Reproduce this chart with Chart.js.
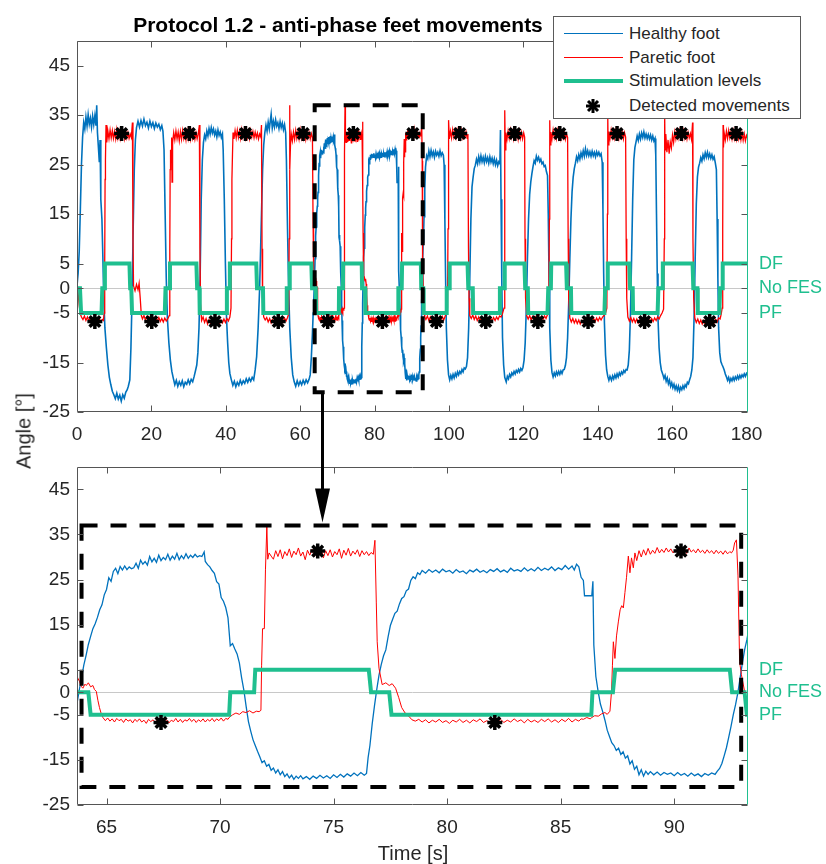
<!DOCTYPE html>
<html lang="en">
<head>
    <meta charset="UTF-8">
    <title>Protocol 1.2 - anti-phase feet movements</title>
    <script src="https://cdn.jsdelivr.net/npm/chart.js"></script>
    <style>
        body {
            margin: 0;
            background-color: #ffffff;
            font-family: "Liberation Sans", Arial, sans-serif;
            color: #262626;
        }
        #page {
            position: relative;
            width: 826px;
            height: 864px;
            overflow: hidden;
        }
        canvas {
            position: absolute;
            left: 0;
        }
        #overviewChart { top: 0; }
        #zoomChart { top: 445px; }
        #overlay { top: 0; pointer-events: none; }
        .title {
            position: absolute;
            top: 13px;
            left: 338px;
            transform: translateX(-50%);
            font-weight: bold;
            font-size: 21px;
            white-space: nowrap;
            color: #000;
        }
        .ylabel {
            position: absolute;
            left: 24px;
            top: 431px;
            transform: translate(-50%, -50%) rotate(-90deg);
            font-size: 20px;
            white-space: nowrap;
        }
        .xlabel {
            position: absolute;
            left: 413px;
            top: 853px;
            transform: translate(-50%, -50%);
            font-size: 20px;
            white-space: nowrap;
        }
        .legend {
            position: absolute;
            left: 553px;
            top: 16px;
            width: 246px;
            height: 101px;
            border: 1px solid #5a5a5a;
            background-color: #ffffff;
            font-size: 17px;
        }
        .legend .item {
            position: absolute;
            left: 75px;
            height: 24px;
            line-height: 24px;
            white-space: nowrap;
        }
        .legend .swatch {
            position: absolute;
            left: 10px;
            width: 59px;
        }
        .legend svg {
            position: absolute;
            left: 31px;
        }
    </style>
</head>
<body>
<div id="page">
    <canvas id="overviewChart" width="826" height="445"></canvas>
    <canvas id="zoomChart" width="826" height="419"></canvas>
    <canvas id="overlay" width="826" height="864"></canvas>
    <div class="title">Protocol 1.2 - anti-phase feet movements</div>
    <div class="legend">
        <div class="swatch" style="top:16px; height:1px; background-color:#0072bd;"></div>
        <div class="item" style="top:5px;">Healthy foot</div>
        <div class="swatch" style="top:40px; height:1px; background-color:#ff0000;"></div>
        <div class="item" style="top:29px;">Paretic foot</div>
        <div class="swatch" style="top:62px; height:4px; background-color:#1fbf8f;"></div>
        <div class="item" style="top:52px;">Stimulation levels</div>
        <svg width="16" height="16" style="top:81px;" viewBox="0 0 16 16">
            <g stroke="#000" stroke-width="3">
                <line x1="8" y1="1" x2="8" y2="15"/>
                <line x1="1" y1="8" x2="15" y2="8"/>
                <line x1="3" y1="3" x2="13" y2="13"/>
                <line x1="13" y1="3" x2="3" y2="13"/>
            </g>
        </svg>
        <div class="item" style="top:77px;">Detected movements</div>
    </div>
    <div class="ylabel">Angle [°]</div>
    <div class="xlabel">Time [s]</div>
</div>

<script>
    // [time s, angle deg]
    const healthyFoot = [
        [0, 0.5], [0.3, 3], [0.6, 7.5], [0.9, 16], [1.2, 25], [1.5, 30.5], [1.8, 33.5], [2.1, 32.2], [2.4, 34.6], [2.7, 32.8],
        [3.0, 35.1], [3.3, 33.2], [3.6, 34.4], [3.9, 32.6], [4.2, 34.8], [4.5, 33.1], [4.8, 34.9], [5.1, 32.9], [5.3, 37], [5.5, 31.5],
        [5.8, 28], [6.0, 25.5], [6.2, 30], [6.4, 18], [6.7, 14], [6.9, 8], [7.2, -2], [7.5, -8], [7.9, -12], [8.3, -15.5],
        [8.7, -18], [9.1, -19.5], [9.5, -20.8], [9.9, -21.5], [10.3, -22.3], [10.7, -21.2], [11.1, -22.4], [11.5, -21.6], [11.9, -22.8], [12.3, -21.5],
        [12.7, -22.2], [13.1, -21], [13.5, -20.5], [13.8, -19.8], [14.2, -18.5], [14.5, -12], [14.8, -2], [15.1, 12], [15.4, 24], [15.7, 30],
        [16.0, 32.5], [16.4, 33.8], [16.8, 32.6], [17.2, 33.9], [17.6, 32.8], [18.0, 34.2], [18.4, 32.9], [18.8, 33.6], [19.2, 32.4], [19.6, 33.8],
        [20.0, 32.7], [20.4, 33.5], [20.8, 32.3], [21.2, 33.4], [21.6, 32.6], [22.0, 33.2], [22.4, 32.1], [22.8, 32.9], [23.1, 31.8], [23.4, 28],
        [23.7, 15], [24.0, 2], [24.3, -6], [24.7, -11], [25.1, -14.5], [25.5, -16.8], [25.9, -18.2], [26.3, -19.5], [26.7, -18.6], [27.1, -19.8],
        [27.5, -18.9], [27.9, -19.6], [28.3, -18.7], [28.7, -19.9], [29.1, -19.0], [29.5, -19.4], [29.9, -18.5], [30.3, -19.3], [30.7, -18.4], [31.1, -18.9],
        [31.5, -17.8], [31.9, -16.5], [32.2, -15.5], [32.5, -13], [32.8, -8], [33.1, 2], [33.4, 18], [33.7, 26],
        [34.0, 29.5], [34.3, 31], [34.6, 30.2], [34.9, 31.8], [35.2, 30.8], [35.5, 32.3], [35.8, 31.2], [36.1, 32.5], [36.4, 31.4], [36.7, 32.2],
        [37.0, 31], [37.3, 31.8], [37.6, 30.6], [37.9, 32], [38.2, 30.9], [38.5, 31.6], [38.8, 30.5], [39.1, 31.2], [39.3, 28], [39.6, 18],
        [39.9, 5], [40.2, -6], [40.5, -11], [40.8, -15], [41.1, -17.2], [41.5, -18.5], [41.9, -19.6], [42.3, -18.8], [42.7, -19.9], [43.1, -19.0],
        [43.5, -19.6], [43.9, -18.6], [44.3, -19.4], [44.7, -18.7], [45.1, -19.2], [45.5, -18.3], [45.9, -19.0], [46.3, -18.2], [46.7, -18.8], [47.1, -18.0],
        [47.5, -18.5], [47.9, -16.5], [48.3, -13.8], [48.7, -8], [49.1, 0], [49.5, 12], [49.9, 24], [50.2, 29],
        [50.5, 31.5], [50.8, 33], [51.1, 31.8], [51.4, 33.6], [51.7, 32.2], [52.0, 34], [52.2, 35.2], [52.5, 32.4], [52.8, 33.8], [53.1, 32.6],
        [53.4, 34.1], [53.7, 32.8], [54.0, 33.5], [54.3, 32.3], [54.6, 33.7], [54.9, 32.5], [55.2, 33.4], [55.5, 32.1], [55.8, 33.1], [56.1, 31.5],
        [56.3, 26], [56.6, 12], [56.9, 0], [57.2, -8], [57.6, -14], [58.0, -17.5], [58.4, -18.9], [58.8, -19.8], [59.2, -18.7], [59.6, -19.6],
        [60.0, -18.8], [60.4, -19.5], [60.8, -18.6], [61.2, -19.3], [61.6, -18.5], [62.0, -19.1], [62.4, -18.4], [62.7, -17.5], [63.0, -14], [63.3, -9],
        [63.5, -5], [63.6, -4.5], [63.7, -2.5], [63.8, 0.5], [63.9, 3.2], [64.0, 6.0], [64.1, 8.2], [64.2, 10.6], [64.3, 12.4], [64.4, 14.1],
        [64.5, 15.2], [64.6, 16.6], [64.7, 18.3], [64.8, 19.4], [64.9, 21.6], [65.0, 22.8], [65.1, 25.4], [65.2, 24.6], [65.3, 26.8], [65.4, 27.5],
        [65.5, 26.3], [65.6, 27.9], [65.7, 27.1], [65.8, 28.0], [65.9, 27.2], [66.0, 27.8], [66.1, 27.4], [66.2, 27.6], [66.3, 28.6], [66.4, 27.5],
        [66.5, 29.3], [66.6, 28.4], [66.7, 29.0], [66.8, 28.2], [66.9, 30.1], [67.0, 28.9], [67.1, 29.7], [67.2, 28.8], [67.3, 30.4], [67.4, 29.2],
        [67.5, 29.9], [67.6, 29.4], [67.7, 30.6], [67.8, 29.3], [67.9, 30.2], [68.0, 29.5], [68.1, 30.8], [68.2, 29.4], [68.3, 30.3], [68.4, 29.6],
        [68.5, 30.7], [68.6, 29.7], [68.7, 30.4], [68.8, 29.9], [68.9, 30.6], [69.0, 30.0], [69.1, 30.3], [69.2, 30.1], [69.3, 31.1], [69.35, 29.0],
        [69.45, 28.3], [69.55, 27.8], [69.65, 27.0], [69.75, 26.4], [69.85, 24.5], [69.95, 24.0], [70.05, 21.0], [70.15, 20.2], [70.25, 18.8], [70.35, 16.5],
        [70.45, 10.3], [70.55, 10.8], [70.65, 9.6], [70.75, 8.5], [70.85, 6.5], [70.95, 3.2], [71.05, 0.4], [71.15, -3.2], [71.25, -6.5], [71.35, -8.6],
        [71.45, -10.5], [71.55, -11.8], [71.65, -13.1], [71.75, -14.3], [71.85, -15.6], [71.95, -15.2], [72.05, -16.4], [72.15, -16.0], [72.25, -17.3], [72.35, -16.8],
        [72.45, -17.9], [72.55, -17.2], [72.65, -18.3], [72.75, -17.6], [72.85, -18.7], [72.95, -18.1], [73.05, -19.0], [73.15, -18.4], [73.25, -19.3], [73.35, -18.6],
        [73.45, -19.1], [73.55, -18.5], [73.65, -19.2], [73.8, -18.7], [73.95, -19.3], [74.1, -18.6], [74.25, -19.1], [74.4, -18.4], [74.55, -19.0], [74.7, -18.5],
        [74.85, -19.1], [75.0, -18.3], [75.15, -18.9], [75.3, -18.2], [75.45, -18.8], [75.6, -18.1], [75.75, -18.6], [75.9, -17.9], [76.05, -18.5], [76.2, -17.8],
        [76.35, -18.4], [76.45, -18.0], [76.52, -14.5], [76.6, -11.8], [76.7, -7.0], [76.8, -3.0], [76.9, 0.6], [77.0, 3.8], [77.1, 6.2], [77.2, 8.1],
        [77.3, 9.4], [77.4, 12.3], [77.5, 14.8], [77.6, 16.2], [77.7, 17.5], [77.8, 18.0], [77.9, 19.6], [78.0, 20.8], [78.1, 21.2], [78.2, 22.5],
        [78.3, 22.9], [78.4, 24.8], [78.5, 25.6], [78.6, 25.2], [78.7, 26.5], [78.8, 26.1], [78.9, 27.0], [79.05, 26.4], [79.2, 27.2], [79.35, 26.6],
        [79.5, 27.1], [79.65, 26.5], [79.8, 27.3], [79.95, 26.7], [80.1, 27.0], [80.25, 26.4], [80.4, 27.2], [80.55, 26.6], [80.7, 26.9], [80.85, 26.3],
        [81.0, 27.1], [81.15, 26.7], [81.3, 27.3], [81.45, 26.6], [81.6, 27.0], [81.75, 26.5], [81.9, 27.2], [82.05, 26.8], [82.2, 27.4], [82.35, 26.7],
        [82.5, 27.1], [82.65, 26.6], [82.8, 27.5], [82.95, 26.9], [83.1, 27.2], [83.25, 26.8], [83.4, 27.6], [83.55, 26.9], [83.7, 27.4], [83.85, 26.9],
        [84.0, 27.7], [84.15, 27.0], [84.3, 27.5], [84.45, 27.1], [84.6, 27.8], [84.75, 27.0], [84.9, 27.6], [85.05, 27.2], [85.2, 28.1], [85.35, 27.3],
        [85.5, 28.0], [85.6, 27.1], [85.7, 28.4], [85.8, 27.8], [85.9, 25.5], [86.0, 24.8], [86.05, 21.4], [86.2, 21.4], [86.37, 21.4], [86.42, 24.6],
        [86.46, 10.5], [86.55, 3.5], [86.65, 0.2], [86.75, -2.6], [86.85, -4.3], [86.95, -6.2], [87.05, -8.4], [87.15, -9.8], [87.25, -11.2], [87.35, -11.8],
        [87.45, -12.9], [87.55, -12.4], [87.65, -13.8], [87.75, -13.2], [87.85, -14.6], [87.95, -14.1], [88.05, -15.9], [88.15, -15.2], [88.25, -17.1], [88.35, -16.4],
        [88.45, -18.3], [88.55, -17.2], [88.65, -18.6], [88.75, -17.5], [88.85, -18.2], [88.95, -17.6], [89.1, -18.3], [89.25, -17.7], [89.4, -18.4], [89.55, -17.8],
        [89.7, -18.2], [89.85, -17.9], [90.0, -18.5], [90.15, -17.8], [90.3, -18.4], [90.45, -18.0], [90.6, -18.6], [90.75, -17.9], [90.9, -18.5], [91.05, -18.1],
        [91.2, -18.7], [91.35, -18.0], [91.5, -18.4], [91.65, -17.9], [91.8, -18.2], [91.9, -17.5], [92.0, -16.9], [92.1, -15.8], [92.2, -14.1], [92.3, -12.3],
        [92.4, -10.0], [92.5, -7.6], [92.6, -5.0], [92.7, -2.8], [92.8, -0.2], [92.9, 3.1], [93.0, 6.4], [93.1, 9.4], [93.2, 11.6], [93.3, 14.5],
        [93.5, 20], [93.7, 24.5], [94.0, 26.8], [94.3, 26.2], [94.6, 27.8], [94.9, 26.6], [95.2, 27.9], [95.5, 26.8], [95.8, 27.6], [96.1, 26.5],
        [96.4, 27.7], [96.7, 26.9], [97.0, 27.5], [97.3, 26.7], [97.6, 27.8], [97.9, 26.8], [98.2, 27.4], [98.5, 26.9], [98.7, 25], [98.9, 14],
        [99.1, 2], [99.3, -8], [99.6, -14.5], [99.9, -17.5], [100.2, -18.5], [100.5, -17.6], [100.8, -18.3], [101.1, -17.4], [101.4, -18.1], [101.7, -17.2],
        [102.0, -17.8], [102.3, -16.9], [102.6, -17.5], [102.9, -16.8], [103.2, -17.2], [103.5, -16.4], [103.8, -16.9], [104.1, -16.1], [104.4, -16.3], [104.7, -15.8],
        [105.0, -14], [105.3, -8], [105.6, 2], [105.9, 14], [106.2, 20.5], [106.5, 22.5], [106.8, 24.2],
        [107.1, 24.9], [107.4, 26.1], [107.7, 25.2], [108.0, 26.6], [108.3, 25.5], [108.6, 26.8], [108.9, 25.6], [109.2, 26.5], [109.5, 25.4], [109.8, 26.7],
        [110.1, 25.6], [110.4, 26.4], [110.7, 25.3], [111.0, 26.6], [111.3, 25.5], [111.6, 26.3], [111.9, 25.2], [112.2, 26.2], [112.5, 25.0], [112.8, 25.9],
        [113.1, 24.8], [113.4, 25.6], [113.7, 25.2], [113.85, 32], [114.0, 18], [114.2, 2], [114.4, -10], [114.7, -15.5], [115.0, -18], [115.4, -18.9],
        [115.7, -17.8], [116.0, -18.3], [116.3, -17.4], [116.6, -17.9], [116.9, -17.1], [117.2, -17.5], [117.5, -16.8], [117.8, -17.3], [118.1, -16.6], [118.4, -17.0],
        [118.7, -16.4], [119.0, -16.9], [119.3, -16.2], [119.6, -16.6], [119.9, -16.0], [120.2, -14.5], [120.5, -11], [120.8, -4], [121.1, 6], [121.4, 14],
        [121.7, 19], [122.0, 21.5], [122.3, 23.2], [122.6, 24.6], [122.9, 25.8], [123.2, 25.3], [123.5, 26.7], [123.8, 25.9], [124.1, 26.5], [124.4, 25.6],
        [124.7, 26.1], [125.0, 25.2], [125.3, 25.5], [125.6, 24.6], [125.9, 24.8], [126.2, 23.6], [126.5, 22.8], [126.7, 15], [126.9, 3], [127.1, -8],
        [127.4, -14.5], [127.7, -17], [128.0, -17.9], [128.3, -17.1], [128.6, -17.7], [128.9, -16.9], [129.2, -17.5], [129.5, -16.8], [129.8, -17.4], [130.1, -16.7],
        [130.4, -17.2], [130.7, -16.5], [131.0, -16.4], [131.3, -15.6], [131.6, -14], [131.9, -10], [132.2, -3], [132.5, 6], [132.8, 14], [133.1, 19.5],
        [133.4, 22.5], [133.7, 24.2], [134.0, 25.3], [134.3, 26.6], [134.6, 25.8], [134.9, 27.0], [135.2, 26.1], [135.5, 27.4], [135.8, 26.5], [136.1, 27.8],
        [136.4, 26.7], [136.7, 28.2], [137.0, 26.9], [137.3, 27.8], [137.6, 26.8], [137.9, 27.6], [138.2, 26.7], [138.5, 27.7], [138.8, 26.8], [139.1, 27.5],
        [139.4, 26.6], [139.7, 27.6], [140.0, 26.9], [140.3, 27.5], [140.6, 26.8], [140.9, 27.2], [141.2, 25.5], [141.4, 16], [141.6, 3], [141.8, -7],
        [142.1, -13.5], [142.4, -16.5], [142.7, -17.8], [143.0, -18.6], [143.3, -17.8], [143.7, -18.6], [144.0, -17.7], [144.3, -18.3], [144.6, -17.5], [144.9, -18.1],
        [145.2, -17.3], [145.5, -17.9], [145.8, -17.1], [146.1, -17.6], [146.4, -16.9], [146.7, -17.3], [147.0, -16.6], [147.3, -17.0], [147.6, -16.4], [147.9, -16.5],
        [148.2, -15.5], [148.5, -12.5], [148.8, -5], [149.1, 6], [149.4, 18], [149.7, 26], [150.0, 28.5], [150.3, 29.6], [150.6, 30.8], [150.9, 29.9],
        [151.2, 31.2], [151.5, 30.2], [151.8, 31.4], [152.1, 30.5], [152.4, 31.6], [152.7, 30.4], [153.0, 31.2], [153.3, 30.3], [153.6, 31.1], [153.9, 30.2],
        [154.2, 31.0], [154.5, 30.0], [154.8, 30.8], [155.1, 29.8], [155.4, 30.3], [155.6, 27], [155.8, 15], [156.0, 3], [156.2, -6], [156.5, -12],
        [156.8, -15], [157.1, -16.5], [157.5, -17.4], [157.8, -18.2], [158.1, -17.6], [158.4, -18.8], [158.7, -18.1], [159.0, -19.3], [159.3, -18.6], [159.6, -19.8],
        [159.9, -19.1], [160.2, -20.1], [160.5, -19.4], [160.8, -20.4], [161.1, -19.7], [161.4, -20.6], [161.7, -19.8], [162.0, -20.8], [162.3, -20.0], [162.6, -20.5],
        [162.9, -19.7], [163.2, -20.3], [163.5, -19.5], [163.8, -19.9], [164.1, -19.0], [164.4, -19.3], [164.7, -18.5], [165.0, -17.8], [165.3, -16.5], [165.6, -14],
        [165.9, -6], [166.2, 6], [166.5, 17], [166.8, 22.5], [167.1, 24.5], [167.4, 25.3], [167.7, 26.4], [168.0, 25.7], [168.3, 27.0], [168.6, 26.2],
        [168.9, 27.4], [169.2, 26.5], [169.5, 27.5], [169.8, 26.4], [170.1, 27.2], [170.4, 26.3], [170.7, 27.0], [171.0, 26.1], [171.3, 26.6], [171.6, 25.4],
        [171.9, 24], [172.1, 14], [172.3, 2], [172.5, -8], [172.8, -13], [173.1, -14.8], [173.4, -15.4], [173.7, -15.9], [174.0, -16.5], [174.3, -17.3],
        [174.6, -17.9], [174.9, -18.6], [175.2, -18.0], [175.5, -18.9], [175.8, -18.2], [176.1, -18.7], [176.4, -18.0], [176.7, -18.6], [177.0, -17.9], [177.3, -18.4],
        [177.6, -17.7], [177.9, -18.3], [178.2, -17.6], [178.5, -18.1], [178.8, -17.5], [179.1, -17.9], [179.4, -17.3], [179.7, -17.8], [180.0, -17.2], [180.4, -17.6]
    ];

    const pareticFoot = [
        [0, 0.5], [0.3, -1], [0.6, -3.5], [0.9, -5.2], [1.2, -5.8], [1.6, -6.3], [2.0, -5.6], [2.4, -6.5], [2.8, -5.8], [3.2, -6.6],
        [3.6, -5.9], [4.0, -6.7], [4.4, -6.0], [4.8, -6.8], [5.2, -6.1], [5.6, -6.9], [6.0, -6.2], [6.4, -6.8], [6.8, -6.3], [7.1, -6.5],
        [7.3, -5], [7.45, 5], [7.55, 22], [7.65, 26], [7.8, 33], [8.0, 29.5], [8.3, 31.8], [8.6, 30.2], [8.9, 32.0], [9.2, 30.4],
        [9.5, 31.9], [9.8, 30.3], [10.1, 31.7], [10.4, 30.2], [10.7, 32.1], [11.0, 30.4], [11.3, 31.8], [11.6, 30.3], [11.9, 31.9], [12.2, 30.5],
        [12.5, 31.6], [12.8, 30.2], [13.1, 31.8], [13.4, 30.4], [13.7, 31.5], [14.0, 30.3], [14.3, 31.2], [14.6, 30.5], [14.9, 33.5], [15.05, 10],
        [15.2, 0.5], [15.6, -0.5], [16.0, 0.8], [16.4, -0.3], [16.7, 1.0], [17.0, -2], [17.3, -5.5], [17.6, -6.2], [18.0, -5.5], [18.4, -6.4],
        [18.8, -5.7], [19.2, -6.6], [19.6, -5.8], [20.0, -6.5], [20.4, -5.9], [20.8, -6.7], [21.2, -6.0], [21.6, -6.6], [22.0, -5.9], [22.4, -6.7],
        [22.8, -6.1], [23.2, -6.8], [23.6, -6.0], [24.0, -6.6], [24.4, -6.2], [24.8, -5.5], [24.95, 8], [25.05, 24], [25.15, 28], [25.3, 26],
        [25.45, 30.5], [25.55, 21.5], [25.7, 29.4], [26.0, 31.5], [26.3, 30.0], [26.6, 31.8], [26.9, 30.2], [27.2, 31.6], [27.5, 29.8], [27.8, 31.7],
        [28.1, 30.1], [28.4, 31.9], [28.7, 30.3], [29.0, 31.5], [29.3, 30.0], [29.6, 31.8], [29.9, 30.2], [30.2, 31.6], [30.5, 30.1], [30.8, 31.7],
        [31.1, 30.3], [31.4, 31.5], [31.7, 30.1], [32.0, 31.4], [32.3, 30.2], [32.6, 31.3], [32.9, 33], [33.05, 8], [33.2, -3], [33.5, -6.5],
        [33.9, -5.8], [34.3, -6.9], [34.7, -6.1], [35.1, -7.2], [35.5, -6.3], [35.9, -7.0], [36.3, -6.2], [36.7, -7.3], [37.1, -6.4], [37.5, -7.1],
        [37.9, -6.3], [38.3, -7.2], [38.7, -6.4], [39.1, -7.0], [39.5, -6.2], [39.9, -6.9], [40.3, -6.1], [40.7, -6.6], [41.1, -5.8], [41.4, -4],
        [41.55, 10], [41.65, 22], [41.8, 27], [41.95, 31.5], [42.2, 30.2], [42.5, 31.9], [42.8, 30.4], [43.1, 32.0], [43.4, 30.5], [43.7, 31.8],
        [44.0, 30.3], [44.3, 32.1], [44.6, 30.6], [44.9, 31.9], [45.2, 30.4], [45.5, 32.0], [45.8, 30.5], [46.1, 31.8], [46.4, 30.3], [46.7, 31.9],
        [47.0, 30.6], [47.3, 31.7], [47.6, 30.4], [47.9, 31.6], [48.2, 30.5], [48.5, 31.4], [48.8, 30.2], [49.1, 31.2], [49.4, 30.6], [49.6, 33],
        [49.75, 8], [49.9, -3], [50.2, -5.8], [50.6, -6.4], [51.0, -5.9], [51.4, -6.8], [51.8, -6.1], [52.2, -7.0], [52.6, -6.3], [53.0, -6.9],
        [53.4, -6.2], [53.8, -7.1], [54.2, -6.4], [54.6, -6.9], [55.0, -6.1], [55.4, -6.8], [55.8, -6.0], [56.2, -6.6], [56.6, -5.9], [56.9, -5.2],
        [57.05, 10], [57.15, 37], [57.25, 24], [57.4, 29], [57.6, 31.2], [57.9, 29.8], [58.2, 31.6], [58.5, 30.1], [58.8, 31.9], [59.1, 30.3],
        [59.4, 31.7], [59.7, 30.2], [60.0, 32.0], [60.3, 30.4], [60.6, 31.8], [60.9, 30.3], [61.2, 31.6], [61.5, 30.1], [61.8, 31.7], [62.1, 30.4],
        [62.4, 31.5], [62.7, 30.2], [63.0, 31.3], [63.3, 30.5], [63.45, 15], [63.55, 6], [63.67, 3.9], [63.75, 3.0], [63.81, 2.4], [63.9, 1.2],
        [63.96, 0.9], [64.05, 1.8], [64.11, 1.5], [64.2, 2.1], [64.3, 1.2], [64.4, 1.5], [64.47, 0.6], [64.55, 0.2], [64.62, -1.8], [64.69, -3.4],
        [64.77, -4.8], [64.84, -5.6], [64.95, -6.3], [65.05, -5.7], [65.15, -6.4], [65.25, -5.9], [65.35, -6.6], [65.45, -5.8], [65.55, -6.3], [65.65, -6.0],
        [65.75, -6.7], [65.85, -5.9], [65.95, -6.4], [66.05, -6.1], [66.15, -6.8], [66.25, -6.0], [66.35, -6.5], [66.45, -5.9], [66.55, -6.6], [66.65, -6.2],
        [66.75, -6.9], [66.85, -6.0], [66.95, -6.5], [67.05, -6.1], [67.15, -6.7], [67.25, -6.0], [67.35, -6.4], [67.45, -5.9], [67.55, -6.6], [67.65, -6.1],
        [67.75, -6.8], [67.85, -6.2], [67.95, -6.5], [68.05, -5.8], [68.15, -6.6], [68.25, -6.0], [68.35, -6.7], [68.45, -6.1], [68.55, -6.4], [68.65, -5.8],
        [68.75, -6.5], [68.85, -6.0], [68.95, -6.7], [69.05, -6.1], [69.15, -6.5], [69.25, -5.9], [69.35, -6.6], [69.45, -6.0], [69.55, -6.4], [69.65, -5.8],
        [69.75, -6.5], [69.85, -5.9], [69.95, -6.3], [70.05, -5.7], [70.15, -6.4], [70.25, -5.8], [70.35, -6.0], [70.4, -5.6], [70.55, -5.0], [70.7, -4.6],
        [70.85, -4.9], [71.0, -4.3], [71.14, -4.5], [71.3, -4.1], [71.45, -4.6], [71.6, -4.2], [71.72, -4.3], [71.8, -4.0], [71.83, 6], [71.87, 14.1],
        [71.95, 14.1], [72.0, 27.3], [72.06, 36.8], [72.1, 29.5], [72.16, 30.9], [72.25, 30.2], [72.35, 29.5], [72.45, 31.4], [72.55, 30.1], [72.65, 31.6],
        [72.75, 29.6], [72.85, 31.2], [72.95, 30.3], [73.05, 31.8], [73.15, 29.9], [73.25, 31.3], [73.35, 30.5], [73.45, 32.0], [73.55, 30.2], [73.65, 31.1],
        [73.75, 29.4], [73.85, 31.5], [73.95, 30.4], [74.05, 31.7], [74.15, 30.1], [74.25, 31.3], [74.35, 30.6], [74.45, 31.9], [74.55, 29.8], [74.65, 31.4],
        [74.75, 30.3], [74.85, 31.6], [74.95, 30.0], [75.05, 31.2], [75.15, 30.5], [75.25, 31.8], [75.35, 29.7], [75.45, 31.5], [75.55, 30.4], [75.65, 31.9],
        [75.75, 30.2], [75.85, 31.3], [75.95, 30.6], [76.05, 31.6], [76.15, 30.1], [76.25, 31.4], [76.35, 30.5], [76.45, 31.2], [76.55, 30.3], [76.65, 31.0],
        [76.75, 30.6], [76.82, 33.7], [76.88, 20], [76.92, 11.2], [77.0, 5.3], [77.14, 1.7], [77.3, 2.1], [77.45, 1.5], [77.58, 1.9], [77.73, 0.9],
        [77.87, -1.2], [78.0, -3.4], [78.15, -4.6], [78.31, -5.3], [78.45, -6.1], [78.6, -6.4], [78.75, -6.0], [78.9, -6.6], [79.05, -6.1], [79.2, -6.8],
        [79.35, -6.2], [79.5, -6.6], [79.65, -6.0], [79.8, -6.7], [79.95, -6.3], [80.1, -6.9], [80.25, -6.2], [80.4, -6.6], [80.55, -6.0], [80.7, -6.7],
        [80.85, -6.2], [81.0, -6.8], [81.15, -6.1], [81.3, -6.5], [81.45, -5.9], [81.6, -6.7], [81.75, -6.3], [81.9, -6.8], [82.05, -6.1], [82.2, -6.6],
        [82.35, -6.0], [82.5, -6.7], [82.65, -6.2], [82.8, -6.6], [82.95, -5.9], [83.1, -6.5], [83.25, -6.1], [83.4, -6.8], [83.55, -6.0], [83.7, -6.6],
        [83.85, -6.2], [84.0, -6.7], [84.15, -6.0], [84.3, -6.5], [84.45, -5.9], [84.6, -6.6], [84.75, -6.1], [84.9, -6.7], [85.05, -6.0], [85.2, -6.5],
        [85.35, -5.8], [85.5, -6.6], [85.65, -6.0], [85.8, -6.4], [85.9, -5.9], [86.0, -6.0], [86.15, -5.6], [86.3, -5.9], [86.37, -5.6], [86.5, -5.2],
        [86.66, -5.3], [86.8, -4.8], [86.95, -4.5], [87.05, -4.9], [87.17, -4.2], [87.24, 0.2], [87.28, 6], [87.32, 11.2], [87.39, 7.5], [87.46, 12.5],
        [87.54, 15.6], [87.62, 18.3], [87.69, 19.2], [87.76, 18.7], [87.83, 22.1], [87.9, 25.5], [87.98, 30.2], [88.05, 26.5], [88.12, 29.8], [88.2, 27.6],
        [88.27, 30.9], [88.35, 29.2], [88.45, 31.4], [88.55, 30.0], [88.65, 31.6], [88.75, 30.4], [88.85, 31.9], [88.95, 30.6], [89.05, 31.5], [89.15, 30.8],
        [89.25, 32.1], [89.35, 30.9], [89.45, 31.7], [89.55, 31.0], [89.65, 32.0], [89.75, 31.1], [89.85, 31.8], [89.95, 30.9], [90.05, 31.6], [90.15, 31.0],
        [90.25, 31.9], [90.35, 31.2], [90.45, 31.7], [90.55, 30.8], [90.65, 32.0], [90.75, 31.1], [90.85, 31.6], [90.95, 30.9], [91.05, 31.8], [91.15, 31.0],
        [91.25, 31.5], [91.35, 30.8], [91.45, 31.6], [91.55, 30.9], [91.65, 31.4], [91.75, 30.7], [91.85, 31.5], [91.95, 30.8], [92.05, 31.3], [92.15, 30.6],
        [92.25, 31.4], [92.35, 30.7], [92.45, 31.2], [92.52, 30.9], [92.6, 31.5], [92.66, 33.1], [92.74, 33.8], [92.81, 25.8], [92.88, 6.8], [92.96, 3.9],
        [93.1, 0.2], [93.18, -3.4], [93.3, -4.8], [93.5, -5.8], [93.8, -6.3], [94.2, -5.6], [94.6, -6.5], [95.0, -5.8], [95.4, -6.6], [95.8, -5.9],
        [96.2, -6.7], [96.6, -6.0], [97.0, -6.6], [97.4, -5.8], [97.8, -6.5], [98.2, -5.7], [98.6, -6.4], [99.0, -5.6], [99.3, -5.1], [99.6, -4],
        [99.75, 12], [99.85, 28], [99.95, 34], [100.1, 30.2], [100.4, 31.8], [100.7, 30.4], [101.0, 32.1], [101.3, 30.6], [101.6, 31.9], [101.9, 30.5],
        [102.2, 32.0], [102.5, 30.7], [102.8, 31.8], [103.1, 30.4], [103.4, 31.9], [103.7, 30.5], [104.0, 31.7], [104.3, 30.6], [104.6, 31.6], [104.9, 30.3],
        [105.1, 31.2], [105.25, 8], [105.4, -2], [105.6, -5.5], [106.0, -6.1], [106.4, -5.4], [106.8, -6.3], [107.2, -5.6], [107.6, -6.5], [108.0, -5.8],
        [108.4, -6.6], [108.8, -5.9], [109.2, -6.7], [109.6, -6.0], [110.0, -6.8], [110.4, -6.1], [110.8, -6.7], [111.2, -6.0], [111.6, -6.6], [112.0, -5.9],
        [112.4, -6.5], [112.8, -5.8], [113.2, -6.3], [113.6, -5.6], [114.0, -5.8], [114.4, -5.1], [114.8, -4], [114.95, 15], [115.05, 36], [115.15, 28],
        [115.3, 31.5], [115.6, 30.1], [115.9, 31.8], [116.2, 30.3], [116.5, 32.0], [116.8, 30.5], [117.1, 31.7], [117.4, 30.2], [117.7, 31.9], [118.0, 30.4],
        [118.3, 31.6], [118.6, 30.1], [118.9, 31.8], [119.2, 30.3], [119.5, 31.5], [119.8, 30.2], [120.1, 31.4], [120.35, 30.6], [120.45, 10], [120.6, -2],
        [120.9, -5.5], [121.3, -6.2], [121.7, -5.5], [122.1, -6.4], [122.5, -5.7], [122.9, -6.5], [123.3, -5.8], [123.7, -6.6], [124.1, -5.9], [124.5, -6.4],
        [124.9, -5.7], [125.3, -6.3], [125.7, -5.6], [126.1, -6.1], [126.5, -5.3], [126.85, -4], [127.0, 14], [127.1, 34], [127.2, 29], [127.4, 31.6],
        [127.7, 30.2], [128.0, 32.0], [128.3, 30.5], [128.6, 31.8], [128.9, 30.3], [129.2, 31.9], [129.5, 30.4], [129.8, 31.7], [130.1, 30.2], [130.4, 31.6],
        [130.7, 30.4], [131.0, 31.5], [131.3, 30.1], [131.6, 31.2], [131.9, 30.5], [132.05, 10], [132.2, -2], [132.5, -6.0], [132.9, -6.8], [133.3, -6.1],
        [133.7, -7.0], [134.1, -6.3], [134.5, -7.1], [134.9, -6.4], [135.3, -7.2], [135.7, -6.5], [136.1, -7.0], [136.5, -6.2], [136.9, -7.1], [137.3, -6.4],
        [137.7, -6.9], [138.1, -6.2], [138.5, -6.8], [138.9, -6.1], [139.3, -6.7], [139.7, -6.0], [140.1, -6.6], [140.5, -5.9], [140.9, -6.4], [141.3, -5.8],
        [141.7, -5.5], [142.1, -5.0], [142.45, -4], [142.6, 15], [142.7, 35], [142.8, 29], [143.0, 31.7], [143.3, 30.3], [143.6, 32.0], [143.9, 30.5],
        [144.2, 31.8], [144.5, 30.4], [144.8, 31.9], [145.1, 30.6], [145.4, 31.7], [145.7, 30.3], [146.0, 31.8], [146.3, 30.5], [146.6, 31.6], [146.9, 30.2],
        [147.2, 31.5], [147.5, 30.6], [147.65, 10], [147.8, -2], [148.1, -5.8], [148.5, -6.6], [148.9, -5.9], [149.3, -6.8], [149.7, -6.1], [150.1, -6.9],
        [150.5, -6.2], [150.9, -7.0], [151.3, -6.3], [151.7, -7.1], [152.1, -6.4], [152.5, -7.0], [152.9, -6.3], [153.3, -6.9], [153.7, -6.2], [154.1, -6.8],
        [154.5, -6.1], [154.9, -6.7], [155.3, -6.0], [155.7, -6.5], [156.1, -5.8], [156.5, -6.2], [156.9, -5.5], [157.3, -5.0], [157.7, -4.2], [157.9, 10],
        [158.0, 35], [158.1, 28], [158.3, 31.2], [158.6, 27.5], [158.9, 30.0], [159.2, 27.2], [159.5, 29.6], [159.8, 28.4], [160.1, 31.0], [160.4, 29.5],
        [160.7, 31.6], [161.0, 30.2], [161.3, 31.8], [161.6, 30.4], [161.9, 31.9], [162.2, 30.5], [162.5, 31.7], [162.8, 30.3], [163.1, 31.8], [163.4, 30.4],
        [163.7, 31.6], [164.0, 30.2], [164.3, 31.5], [164.6, 30.4], [164.9, 31.3], [165.2, 30.1], [165.5, 33.5], [165.6, 10], [165.8, -2], [166.1, -6.0],
        [166.5, -6.9], [166.9, -6.2], [167.3, -7.1], [167.7, -6.4], [168.1, -7.2], [168.5, -6.5], [168.9, -7.3], [169.3, -6.6], [169.7, -7.2], [170.1, -6.5],
        [170.5, -7.1], [170.9, -6.4], [171.3, -7.0], [171.7, -6.3], [172.1, -6.8], [172.5, -6.0], [172.9, -6.2], [173.2, -5.2], [173.45, -4], [173.6, 12],
        [173.7, 33], [173.8, 28.5], [174.0, 31.4], [174.3, 30.0], [174.6, 31.8], [174.9, 30.3], [175.2, 31.9], [175.5, 30.4], [175.8, 31.6], [176.1, 30.2],
        [176.4, 31.8], [176.7, 30.3], [177.0, 31.7], [177.3, 30.1], [177.6, 31.5], [177.9, 30.2], [178.2, 31.6], [178.5, 30.0], [178.8, 31.4], [179.1, 29.9],
        [179.4, 31.2], [179.7, 29.8], [180.0, 30.9], [180.4, 30.2]
    ];

    // stimulation level: 5 = DF, 0 = no FES, -5 = PF
    const stimulationLevels = [
        [0, 0], [0.8, 0], [1.1, -5], [6.6, -5], [6.8, 0], [7.4, 0], [7.5, 5], [14.1, 5], [14.3, 0], [14.6, 0],
        [14.8, -5], [23.6, -5], [23.8, 0], [24.9, 0], [25.0, 5], [32.1, 5], [32.3, 0], [32.9, 0], [33.0, -5], [40.1, -5],
        [40.3, 0], [41.0, 0], [41.1, 5], [48.2, 5], [48.4, 0], [50.0, 0], [50.1, -5], [56.2, -5], [56.4, 0], [57.1, 0],
        [57.2, 5], [63.0, 5], [63.2, 0], [64.2, 0], [64.3, -5], [70.4, -5], [70.45, 0], [71.5, 0], [71.55, 5], [76.55, 5],
        [76.65, 0], [77.45, 0], [77.55, -5], [86.35, -5], [86.4, 0], [87.3, 0], [87.4, 5], [92.45, 5], [92.55, 0], [93.1, 0],
        [93.2, -5], [99.3, -5], [99.4, 0], [100.1, 0], [100.2, 5], [105.0, 5], [105.2, 0], [106.4, 0], [106.5, -5], [113.5, -5],
        [113.7, 0], [114.9, 0], [115.0, 5], [120.3, 5], [120.5, 0], [121.2, 0], [121.3, -5], [126.5, -5], [126.7, 0], [127.4, 0],
        [127.5, 5], [131.5, 5], [131.7, 0], [132.8, 0], [132.9, -5], [141.8, -5], [142.0, 0], [142.6, 0], [142.7, 5], [148.5, 5],
        [148.7, 0], [149.4, 0], [149.5, -5], [156.1, -5], [156.3, 0], [157.4, 0], [157.5, 5], [165.5, 5], [165.7, 0], [166.8, 0],
        [166.9, -5], [172.7, -5], [172.9, 0], [173.5, 0], [173.6, 5], [180.4, 5]
    ];

    const detectedMovements = [
        [4.8, -6.7], [12.0, 31.3], [20.1, -6.7], [30.2, 31.3], [37.1, -6.7], [45.3, 31.3], [54.1, -6.7], [60.8, 31.3],
        [67.4, -6.7], [74.3, 31.3], [82.1, -6.7], [90.3, 31.3], [96.6, -6.7], [102.9, 31.3], [109.9, -6.7], [117.7, 31.3],
        [123.9, -6.7], [129.8, 31.3], [137.4, -6.7], [145.2, 31.3], [152.6, -6.7], [162.5, 31.3], [170.1, -6.7], [177.2, 31.3]
    ];

    const overviewTimeTicks = [0, 20, 40, 60, 80, 100, 120, 140, 160, 180];
    const zoomTimeTicks = [65, 70, 75, 80, 85, 90];
    const angleTicks = [-25, -15, -5, 0, 5, 15, 25, 35, 45];
    const stimTicks = [-5, 0, 5];
    const stimTickLabels = ['PF', 'No FES', 'DF'];

    // zoomed window (dashed boxes + arrow)
    const zoomWindow = { from: 63.9, to: 92.95, low: -21, high: 37 };
    const zoomArrowTime = 65.9;

    const FONT = '"Liberation Sans", Arial, sans-serif';
    const TEXT_COLOR = '#262626';
    const FRAME_COLOR = '#555555';
    const GREEN = '#1fbf8f';

    const toXY = pairs => pairs.map(p => ({ x: p[0], y: p[1] }));

    // MATLAB-like box: inward ticks, green right edge, dashed zoom window
    const matlabFrame = {
        id: 'matlabFrame',
        afterDatasetsDraw(chart) {
            const { ctx, chartArea: a, scales } = chart;
            const x = scales.x, y = scales.y;
            ctx.save();

            const bx0 = x.getPixelForValue(zoomWindow.from);
            const bx1 = x.getPixelForValue(zoomWindow.to);
            const by0 = y.getPixelForValue(zoomWindow.high);
            const by1 = y.getPixelForValue(zoomWindow.low);
            ctx.strokeStyle = '#000';
            ctx.lineWidth = 4;
            ctx.setLineDash([16, 13]);
            ctx.strokeRect(bx0, by0, bx1 - bx0, by1 - by0);
            ctx.setLineDash([]);

            const L = Math.round(a.left) + 0.5;
            const R = Math.round(a.right) - 0.5;
            const T = Math.round(a.top) + 0.5;
            const B = Math.round(a.bottom) - 0.5;
            ctx.lineWidth = 1;
            ctx.strokeStyle = FRAME_COLOR;
            ctx.beginPath();
            ctx.moveTo(R, T);
            ctx.lineTo(L, T);
            ctx.lineTo(L, B);
            ctx.lineTo(R, B);
            x.ticks.forEach(t => {
                const px = Math.round(x.getPixelForValue(t.value)) + 0.5;
                ctx.moveTo(px, B); ctx.lineTo(px, B - 6);
                ctx.moveTo(px, T); ctx.lineTo(px, T + 6);
            });
            y.ticks.forEach(t => {
                const py = Math.round(y.getPixelForValue(t.value)) + 0.5;
                ctx.moveTo(L, py); ctx.lineTo(L + 6, py);
                ctx.moveTo(R, py); ctx.lineTo(R - 6, py);
            });
            ctx.stroke();

            ctx.strokeStyle = GREEN;
            ctx.beginPath();
            ctx.moveTo(R, T);
            ctx.lineTo(R, B);
            ctx.stroke();
            ctx.restore();
        }
    };

    function makeDatasets(footLineWidth) {
        return [
            {
                label: 'Detected movements',
                data: toXY(detectedMovements),
                showLine: false,
                pointStyle: 'star',
                pointRadius: 7.5,
                pointBorderWidth: 3.5,
                pointBorderColor: '#000',
                pointBackgroundColor: '#000',
                order: 0
            },
            {
                label: 'Stimulation levels',
                data: toXY(stimulationLevels),
                yAxisID: 'stim',
                borderColor: GREEN,
                borderWidth: 4,
                pointRadius: 0,
                order: 1
            },
            {
                label: 'Paretic foot',
                data: toXY(pareticFoot),
                borderColor: '#ff0000',
                borderWidth: footLineWidth,
                pointRadius: 0,
                order: 2
            },
            {
                label: 'Healthy foot',
                data: toXY(healthyFoot),
                borderColor: '#0072bd',
                borderWidth: footLineWidth + 0.3,
                pointRadius: 0,
                order: 3
            }
        ];
    }

    function buildChart(canvasId, xMin, xMax, xTicks, xAxisHeight, topPad, footLineWidth) {
        const tickFont = { family: FONT, size: 19 };
        return new Chart(document.getElementById(canvasId), {
            type: 'line',
            data: { datasets: makeDatasets(footLineWidth) },
            options: {
                responsive: false,
                animation: false,
                devicePixelRatio: 1,
                events: [],
                layout: { padding: { top: topPad, left: 0, right: 0, bottom: 0 } },
                plugins: {
                    legend: { display: false },
                    tooltip: { enabled: false }
                },
                scales: {
                    x: {
                        type: 'linear',
                        min: xMin,
                        max: xMax,
                        afterBuildTicks: s => { s.ticks = xTicks.map(v => ({ value: v })); },
                        afterFit: s => { s.height = xAxisHeight; },
                        grid: { display: false, drawTicks: false },
                        border: { display: false },
                        ticks: {
                            color: TEXT_COLOR,
                            font: tickFont,
                            padding: 11,
                            maxRotation: 0,
                            autoSkip: false,
                            callback: v => String(v)
                        }
                    },
                    y: {
                        position: 'left',
                        min: -25,
                        max: 50,
                        afterBuildTicks: s => { s.ticks = angleTicks.map(v => ({ value: v })); },
                        afterFit: s => { s.width = 77; },
                        grid: {
                            drawTicks: false,
                            color: c => (c.tick && c.tick.value === 0) ? '#c8c8c8' : 'rgba(0,0,0,0)'
                        },
                        border: { display: false },
                        ticks: {
                            color: TEXT_COLOR,
                            font: tickFont,
                            padding: 7,
                            autoSkip: false,
                            callback: v => String(v)
                        }
                    },
                    stim: {
                        position: 'right',
                        min: -25,
                        max: 50,
                        afterBuildTicks: s => { s.ticks = stimTicks.map(v => ({ value: v })); },
                        afterFit: s => { s.width = 78; },
                        grid: { display: false, drawTicks: false },
                        border: { display: false },
                        ticks: {
                            color: GREEN,
                            font: { family: FONT, size: 18 },
                            padding: 11,
                            autoSkip: false,
                            callback: v => stimTickLabels[stimTicks.indexOf(v)]
                        }
                    }
                }
            },
            plugins: [matlabFrame]
        });
    }

    const overviewChart = buildChart('overviewChart', 0, 180.4, overviewTimeTicks, 33, 41, 1.3);
    const zoomChart = buildChart('zoomChart', 63.7, 93.25, zoomTimeTicks, 59, 18, 1);

    function drawZoomArrow() {
        const ctx = document.getElementById('overlay').getContext('2d');
        const zoomTop = document.getElementById('zoomChart').offsetTop;
        const ax = Math.round(overviewChart.scales.x.getPixelForValue(zoomArrowTime)) + 0.5;
        const yStart = overviewChart.scales.y.getPixelForValue(zoomWindow.low);
        const yEnd = zoomTop + zoomChart.scales.y.getPixelForValue(zoomWindow.high) - 3;
        const headLength = 34;
        const headHalf = 7.5;
        ctx.strokeStyle = '#000';
        ctx.fillStyle = '#000';
        ctx.lineWidth = 3;
        ctx.beginPath();
        ctx.moveTo(ax, yStart);
        ctx.lineTo(ax, yEnd - headLength + 2);
        ctx.stroke();
        ctx.beginPath();
        ctx.moveTo(ax, yEnd);
        ctx.lineTo(ax - headHalf, yEnd - headLength);
        ctx.lineTo(ax + headHalf, yEnd - headLength);
        ctx.closePath();
        ctx.fill();
    }

    drawZoomArrow();
</script>
</body>
</html>
